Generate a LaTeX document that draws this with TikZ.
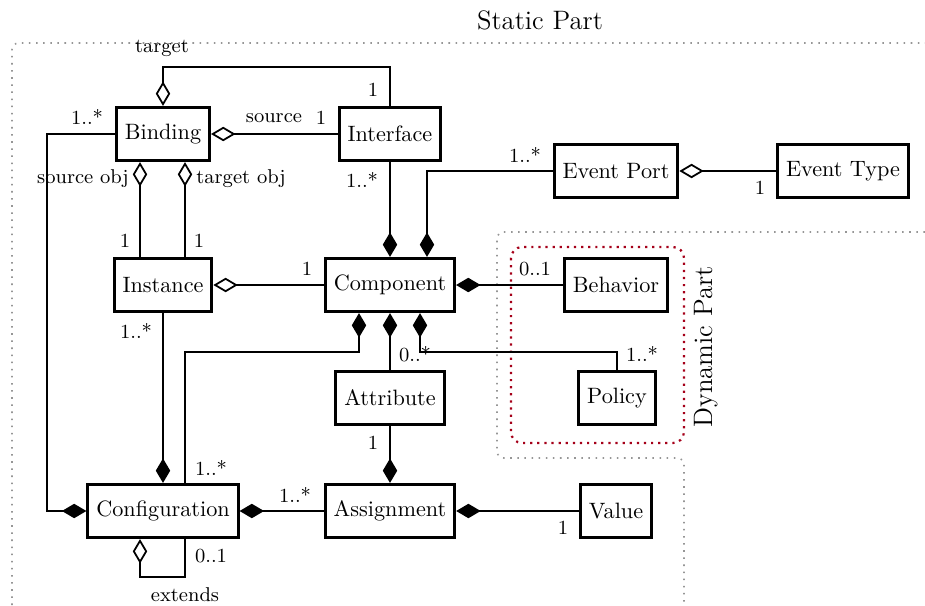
\documentclass[tikz,border=0pt]{standalone}
\usetikzlibrary{arrows.meta}
\definecolor{dotgray}{RGB}{150,150,150}
\definecolor{dynred}{RGB}{165,0,25}
\tikzset{
  ODia/.tip={Diamond[open,length=11pt,width=6.5pt,line width=0.8pt]},
  FDia/.tip={Diamond[length=11pt,width=6.5pt]},
  cls/.style={draw, line width=1.3pt, minimum height=24pt, inner xsep=3.8pt, inner ysep=2pt, font=\normalsize},
  conn/.style={line width=0.8pt},
  lab/.style={font=\small, inner sep=1pt},
  staticline/.style={draw=dotgray, line width=0.7pt, dash pattern=on 0.7pt off 2.5pt, rounded corners=3pt},
  dynline/.style={draw=dynred, line width=1pt, dash pattern=on 1pt off 2.2pt, rounded corners=5pt},
  title/.style={font=\large, inner sep=1pt}
}
\begin{document}
\begin{tikzpicture}[x=0.45pt,y=-0.45pt]
\useasboundingbox (0,0) rectangle (925,605);

% region outlines
\draw[staticline] (12,605) -- (12,43) -- (925,43);
\draw[staticline] (925,232) -- (497,232) -- (497,458) -- (684,458) -- (684,605);
\draw[dynline] (511,247) rectangle (684,443);
\node[title] (statictitle) at (540,20) {Static Part};
\node[title, rotate=90] (dyntitle) at (706,347) {Dynamic Part};

% classes
\node[cls] (binding)    at (163,134) {Binding};
\node[cls] (interface)  at (390,134) {Interface};
\node[cls] (eventport)  at (616,171) {Event Port};
\node[cls] (eventtype)  at (843,171) {Event Type};
\node[cls] (instance)   at (163,285) {Instance};
\node[cls] (component)  at (390,285) {Component};
\node[cls] (behavior)   at (616,285) {Behavior};
\node[cls] (attribute)  at (390,398) {Attribute};
\node[cls] (policy)     at (617,398) {Policy};
\node[cls] (config)     at (163,511) {Configuration};
\node[cls] (assignment) at (390,511) {Assignment};
\node[cls] (value)      at (616,511) {Value};

% connectors
\draw[conn, ODia-] (binding.east) -- (interface.west);
\draw[conn, -ODia] (interface.north) -- ++(0,-39) -| (binding.north);
\draw[conn, ODia-] ([xshift=-23*0.45pt]binding.south) -- ([xshift=-23*0.45pt]instance.north);
\draw[conn, ODia-] ([xshift=22*0.45pt]binding.south) -- ([xshift=22*0.45pt]instance.north);
\draw[conn, -FDia] (binding.west) -- ++(-68,0) |- (config.west);
\draw[conn, ODia-] (instance.east) -- (component.west);
\draw[conn, -FDia] (instance.south) -- (config.north);
\draw[conn, -FDia] (interface.south) -- (component.north);
\draw[conn, -FDia] (eventport.west) -| ([xshift=37*0.45pt]component.north);
\draw[conn, ODia-] (eventport.east) -- (eventtype.west);
\draw[conn, FDia-] (component.east) -- (behavior.west);
\draw[conn, FDia-] ([xshift=-31*0.45pt]component.south) -- ++(0,39) -| ([xshift=22*0.45pt]config.north);
\draw[conn, FDia-] (component.south) -- (attribute.north);
\draw[conn, FDia-] ([xshift=30*0.45pt]component.south) -- ++(0,39) -| (policy.north);
\draw[conn, -FDia] (attribute.south) -- (assignment.north);
\draw[conn, FDia-] (config.east) -- (assignment.west);
\draw[conn, FDia-] (assignment.east) -- (value.west);
\draw[conn, ODia-] ([xshift=-23*0.45pt]config.south) -- ++(0,38) -| ([xshift=22*0.45pt]config.south);

% labels
\node[lab] (l1) at (162,48) {target};
\node[lab] (l2) at (373,90) {1};
\node[lab] (l3) at (274,118) {source};
\node[lab] (l4) at (321,118) {1};
\node[lab] (l5) at (87,117) {1..*};
\node[lab] (l6) at (83,179) {source obj};
\node[lab] (l7) at (241,179) {target obj};
\node[lab] (l8) at (125,241) {1};
\node[lab] (l9) at (199,241) {1};
\node[lab] (l10) at (362,180) {1..*};
\node[lab] (l11) at (307,269) {1};
\node[lab] (l12) at (525,155) {1..*};
\node[lab] (l13) at (760,188) {1};
\node[lab] (l14) at (535,269) {0..1};
\node[lab] (l15) at (415,354) {0..*};
\node[lab] (l16) at (642,354) {1..*};
\node[lab] (l17) at (373,443) {1};
\node[lab] (l18) at (136,331) {1..*};
\node[lab] (l19) at (211,468) {1..*};
\node[lab] (l20) at (295,495) {1..*};
\node[lab] (l21) at (563,528) {1};
\node[lab] (l22) at (211,556) {0..1};
\node[lab] (l23) at (185,595) {extends};
\end{tikzpicture}
\end{document}
